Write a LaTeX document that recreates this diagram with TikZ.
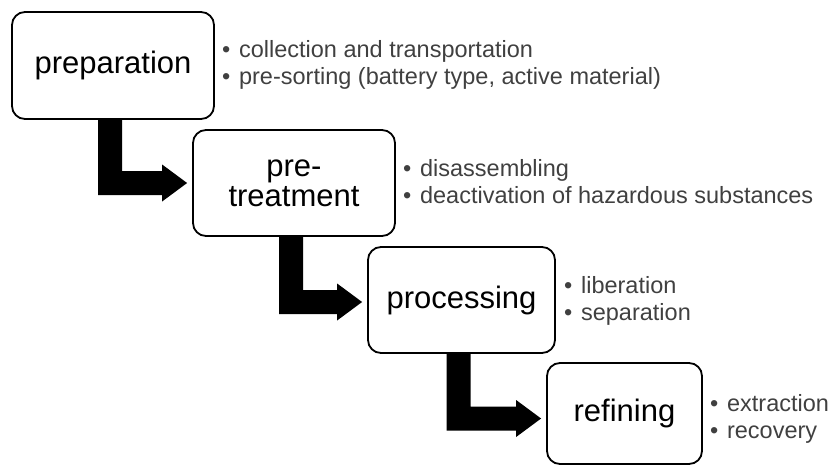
\documentclass[tikz,border=0pt]{standalone}
\usepackage{fontspec}
\setmainfont{Liberation Sans}
\usetikzlibrary{calc}
\definecolor{notegray}{RGB}{64,64,64}

% bullet followed by a fixed gap before the item text
\newcommand\bitem{\makebox[17pt][l]{•}}

% thick elbow arrow: down from the bottom of #1, then right into the west side of #2;
% #3 shifts the horizontal bar downwards (pt)
\newcommand\stagearrow[3]{%
  \fill[black] let \p1=(#1.south), \p2=(#2.west) in
    (\x1-15pt,\y1) -- (\x1-15pt,\y2-#3-12pt) -- (\x2-30pt,\y2-#3-12pt)
    -- (\x2-30pt,\y2-#3-18.5pt) -- (\x2-5pt,\y2-#3) -- (\x2-30pt,\y2-#3+18.5pt)
    -- (\x2-30pt,\y2-#3+12pt) -- (\x1+9pt,\y2-#3+12pt) -- (\x1+9pt,\y1) -- cycle;}

\begin{document}
\begin{tikzpicture}[x=1pt,y=-1pt,
  stagebox/.style={draw=black, line width=1.8pt, rounded corners=13pt, fill=white,
    inner sep=0pt, align=center, font=\fontsize{31}{30}\selectfont},
  notes/.style={anchor=base west, inner sep=0pt, align=left, text=notegray,
    font=\fontsize{23.5}{27}\selectfont}]
\useasboundingbox (0,0) rectangle (830,466);

% process stages
\node[stagebox, minimum width=202pt, minimum height=107pt] (prep) at (113,65.5) {preparation};
\node[stagebox, minimum width=202pt, minimum height=106pt] (pret) at (294,183) {pre-\\treatment};
\node[stagebox, minimum width=187pt, minimum height=106pt] (proc) at (461.5,300) {processing};
\node[stagebox, minimum width=155pt, minimum height=101pt] (refi) at (624.5,413.5) {refining};

% elbow arrows between consecutive stages
\stagearrow{prep}{pret}{0pt}
\stagearrow{pret}{proc}{2pt}
\stagearrow{proc}{refi}{5pt}

% notes next to each stage (anchor is the baseline of the second line)
\node[notes] (nprep) at ($(prep.east)+(7,18.5)$)
  {\bitem collection and transportation\\\bitem pre-sorting (battery type, active material)};
\node[notes] (npret) at ($(pret.east)+(7,20)$)
  {\bitem disassembling\\\bitem deactivation of hazardous substances};
\node[notes] (nproc) at ($(proc.east)+(8,20)$)
  {\bitem liberation\\\bitem separation};
\node[notes] (nrefi) at ($(refi.east)+(7,24.5)$)
  {\bitem extraction\\\bitem recovery};
\end{tikzpicture}
\end{document}
